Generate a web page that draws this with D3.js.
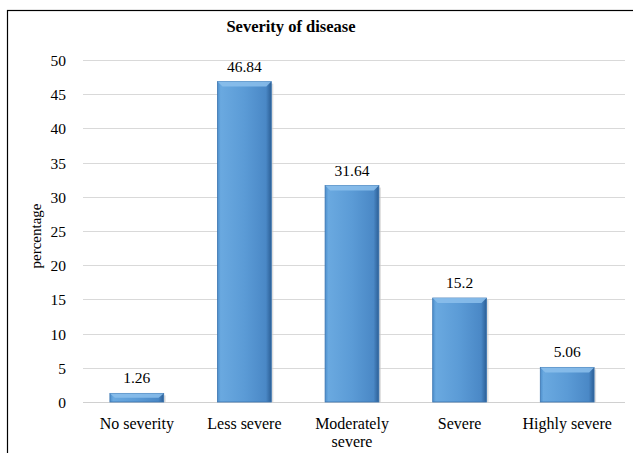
<!DOCTYPE html>
<html><head><meta charset="utf-8">
<script src="https://cdn.jsdelivr.net/npm/d3@7"></script>
<style>body{margin:0;background:#fff}svg{display:block}text{font-family:"Liberation Serif","Times New Roman",serif}</style>
</head><body>
<script>
const categories = ["No severity","Less severe","Moderately severe","Severe","Highly severe"];
const values = [1.26, 46.84, 31.64, 15.2, 5.06];
const valueLabels = ["1.26","46.84","31.64","15.2","5.06"];
const yTicks = [0,5,10,15,20,25,30,35,40,45,50];
const title = "Severity of disease";
const yTitle = "percentage";

const W = 633, H = 453;
const svg = d3.select("body").append("svg").attr("width", W).attr("height", H);

// outer border
svg.append("rect").attr("x", 7.5).attr("y", 10.5).attr("width", 640).attr("height", 460)
  .attr("fill", "none").attr("stroke", "#000").attr("stroke-width", 1.2);

const x = d3.scaleBand().domain(categories).range([83, 621]).paddingInner(0.5).paddingOuter(0.25);
const y = d3.scaleLinear().domain([0, 50]).range([402, 60]);

const defs = svg.append("defs");
const g = defs.append("linearGradient").attr("id", "barg").attr("x1", "0").attr("x2", "1").attr("y1", "0").attr("y2", "0");
g.append("stop").attr("offset", "0").attr("stop-color", "#4d8fcc");
g.append("stop").attr("offset", "0.06").attr("stop-color", "#6aa9e0");
g.append("stop").attr("offset", "0.5").attr("stop-color", "#5b9bd6");
g.append("stop").attr("offset", "0.9").attr("stop-color", "#4a88c6");
g.append("stop").attr("offset", "1").attr("stop-color", "#2c5f96");

// gridlines
svg.append("g").selectAll("line").data(yTicks.filter(d => d > 0)).join("line")
  .attr("x1", 83).attr("x2", 625).attr("y1", d => Math.round(y(d)) + 0.5).attr("y2", d => Math.round(y(d)) + 0.5)
  .attr("stroke", "#d9d9d9").attr("stroke-width", 1);

// y axis labels
const ya = svg.append("g").attr("transform", "translate(66,0)")
  .call(d3.axisLeft(y).tickValues(yTicks).tickSize(0).tickPadding(0));
ya.select(".domain").remove();
ya.selectAll("text").attr("font-size", 15.5).attr("fill", "#000").attr("dy", "0.35em")
  .style("font-family", '"Liberation Serif","Times New Roman",serif');

// baseline
svg.append("line").attr("x1", 83).attr("x2", 625).attr("y1", Math.round(y(0)) + 0.5).attr("y2", Math.round(y(0)) + 0.5)
  .attr("stroke", "#d0d0d0").attr("stroke-width", 1);

// bars
const bars = svg.append("g").selectAll("g").data(categories).join("g");
bars.append("rect")
  .attr("x", d => x(d) + 2).attr("y", (d, i) => y(values[i]) + 2)
  .attr("width", x.bandwidth()).attr("height", (d, i) => y(0) - y(values[i]) - 2)
  .attr("fill", "#c8c8c8").attr("opacity", 0.6);
bars.append("rect")
  .attr("x", d => x(d)).attr("y", (d, i) => y(values[i]))
  .attr("width", x.bandwidth()).attr("height", (d, i) => y(0) - y(values[i]))
  .attr("fill", "url(#barg)").attr("stroke", "#3a74b0").attr("stroke-width", 0.8);
// top bevel
bars.append("path")
  .attr("d", (d, i) => {
    const x0 = x(d), x1 = x(d) + x.bandwidth(), t = y(values[i]), b = Math.min(5, (y(0) - t) / 2);
    return `M${x0},${t}L${x1},${t}L${x1 - 5},${t + b}L${x0 + 5},${t + b}Z`;
  })
  .attr("fill", "#8cc0ec").attr("opacity", 0.85);

// value labels
svg.append("g").selectAll("text").data(categories).join("text")
  .attr("x", d => x(d) + x.bandwidth() / 2).attr("y", (d, i) => y(values[i]) - 10)
  .attr("text-anchor", "middle").attr("font-size", 15.5).attr("fill", "#000")
  .text((d, i) => valueLabels[i]);

// x labels
const xl = svg.append("g").selectAll("text").data(categories).join("text")
  .attr("x", d => x(d) + x.bandwidth() / 2).attr("y", 429)
  .attr("text-anchor", "middle").attr("font-size", 16).attr("fill", "#000");
xl.each(function(d) {
  const t = d3.select(this);
  if (d === "Moderately severe") {
    t.append("tspan").attr("x", x(d) + x.bandwidth() / 2).attr("dy", 0).text("Moderately");
    t.append("tspan").attr("x", x(d) + x.bandwidth() / 2).attr("dy", 18).text("severe");
  } else t.text(d);
});

// title
svg.append("text").attr("x", 291).attr("y", 32).attr("text-anchor", "middle")
  .attr("font-size", 16.5).attr("font-weight", "bold").text(title);

// y title
svg.append("text").attr("transform", "translate(41,236) rotate(-90)").attr("text-anchor", "middle")
  .attr("font-size", 15).text(yTitle);
</script>
</body></html>
